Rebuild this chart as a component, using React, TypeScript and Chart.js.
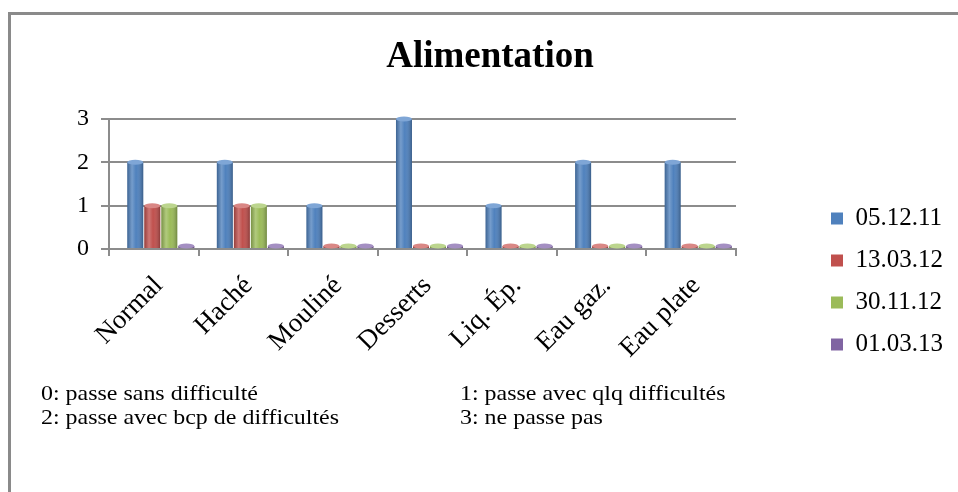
import React, { useEffect, useRef } from 'react';
import { Chart, registerables } from 'chart.js';

Chart.register(...registerables);

const categories = ['Normal', 'Haché', 'Mouliné', 'Desserts', 'Liq. Ép.', 'Eau gaz.', 'Eau plate'];
const seriesLabels = ['05.12.11', '13.03.12', '30.11.12', '01.03.13'];
const serie1 = [2, 2, 1, 3, 1, 2, 2];
const serie2 = [1, 1, 0, 0, 0, 0, 0];
const serie3 = [1, 1, 0, 0, 0, 0, 0];
const serie4 = [0, 0, 0, 0, 0, 0, 0];
const seriesColors = ['#4F81BD', '#C0504D', '#9BBB59', '#8064A2'];
const seriesCaps = ['#7FA6D6', '#D98785', '#BCD58E', '#A48FC2'];
const yTickValues = [0, 1, 2, 3];
const chartTitle = 'Alimentation';
const notesCol1 = ['0: passe sans difficulté', '2: passe avec bcp de difficultés'];
const notesCol2 = ['1: passe avec qlq difficultés', '3: ne passe pas'];

const SERIF = "'Liberation Serif', 'Times New Roman', serif";
const GRID = '#8c8c8c';
const DEPTH_SHIFT = 7;

const cylinderShade = {
  id: 'cylinderShade',
  beforeDatasetsDraw(chart: any) {
    chart.ctx.save();
    chart.ctx.translate(DEPTH_SHIFT, 0);
  },
  afterDatasetsDraw(chart: any) {
    const ctx = chart.ctx;
    chart.data.datasets.forEach((_d: any, di: number) => {
      const meta = chart.getDatasetMeta(di);
      if (meta.hidden) return;
      meta.data.forEach((el: any) => {
        const p = el.getProps(['x', 'y', 'base', 'width'], true);
        const left = p.x - p.width / 2;
        const top = Math.min(p.y, p.base);
        const h = Math.abs(p.base - p.y);
        const g = ctx.createLinearGradient(left, 0, left + p.width, 0);
        g.addColorStop(0, 'rgba(0,0,0,0.22)');
        g.addColorStop(0.3, 'rgba(255,255,255,0.22)');
        g.addColorStop(0.55, 'rgba(255,255,255,0.0)');
        g.addColorStop(1, 'rgba(0,0,0,0.28)');
        ctx.save();
        ctx.fillStyle = g;
        ctx.fillRect(left, top, p.width, h);
        ctx.beginPath();
        ctx.ellipse(p.x, top, p.width / 2, 2.5, 0, 0, Math.PI * 2);
        ctx.fillStyle = seriesCaps[di];
        ctx.fill();
        ctx.restore();
      });
    });
    ctx.restore();
  },
};

export default function App() {
  const ref = useRef<HTMLCanvasElement | null>(null);

  useEffect(() => {
    if (!ref.current) return;
    const values = [serie1, serie2, serie3, serie4];
    const chart = new Chart(ref.current, {
      type: 'bar',
      data: {
        labels: categories,
        datasets: seriesLabels.map((label, i) => ({
          label,
          data: values[i],
          backgroundColor: seriesColors[i],
          borderWidth: 0,
          minBarLength: 3,
          barPercentage: 0.94,
          categoryPercentage: 0.76,
        })),
      },
      options: {
        animation: false,
        responsive: false,
        events: [],
        layout: { padding: { left: 27, right: 5, top: 0, bottom: 118 } },
        plugins: {
          title: {
            display: true,
            text: chartTitle,
            color: '#000',
            font: { family: SERIF, size: 37, weight: 'bold' },
            padding: { top: 35, bottom: 39.6 },
          },
          legend: {
            position: 'right',
            align: 'end',
            labels: {
              boxWidth: 12,
              boxHeight: 12,
              padding: 17,
              color: '#000',
              font: { family: SERIF, size: 25 },
            },
          },
          tooltip: { enabled: false },
        },
        scales: {
          x: {
            grid: {
              display: true,
              drawOnChartArea: false,
              drawTicks: true,
              tickLength: 7,
              color: GRID,
              lineWidth: 2,
              offset: true,
            },
            border: { display: true, color: GRID, width: 2 },
            ticks: {
              minRotation: 45,
              maxRotation: 45,
              autoSkip: false,
              color: '#000',
              font: { family: SERIF, size: 27 },
              padding: 14,
              labelOffset: 5,
            },
            afterFit: (s: any) => {
              s.height = 125;
            },
          },
          y: {
            min: yTickValues[0],
            max: yTickValues[yTickValues.length - 1],
            ticks: {
              stepSize: 1,
              color: '#000',
              font: { family: SERIF, size: 24 },
              padding: 12,
            },
            grid: { color: GRID, lineWidth: 2, tickLength: 8 },
            border: { color: GRID, width: 2 },
            afterFit: (s: any) => {
              s.width = 82;
            },
          },
          spacer: {
            type: 'linear',
            position: 'right',
            display: true,
            grid: { display: false },
            ticks: { display: false },
            border: { display: false },
            afterFit: (s: any) => {
              s.width = 78;
            },
          },
        },
      } as any,
      plugins: [cylinderShade],
    });
    return () => chart.destroy();
  }, []);

  const noteStyle: React.CSSProperties = {
    position: 'fixed',
    fontFamily: SERIF,
    fontSize: 21,
    lineHeight: '24px',
    color: '#000',
    whiteSpace: 'nowrap',
    transform: 'scaleX(1.14)',
    transformOrigin: 'left top',
    margin: 0,
  };

  return (
    <div>
      <div
        style={{
          position: 'fixed',
          left: 8,
          top: 12,
          width: 960,
          height: 490,
          borderTop: '3px solid #8a8a8a',
          borderLeft: '3px solid #8a8a8a',
          boxSizing: 'border-box',
        }}
      />
      <canvas
        ref={ref}
        width={958}
        height={492}
        style={{ position: 'fixed', left: 0, top: 0, width: 958, height: 492 }}
      />
      <div style={{ ...noteStyle, left: 41, top: 381 }}>
        {notesCol1.map((t) => (
          <div key={t}>{t}</div>
        ))}
      </div>
      <div style={{ ...noteStyle, left: 460, top: 381 }}>
        {notesCol2.map((t) => (
          <div key={t}>{t}</div>
        ))}
      </div>
    </div>
  );
}
